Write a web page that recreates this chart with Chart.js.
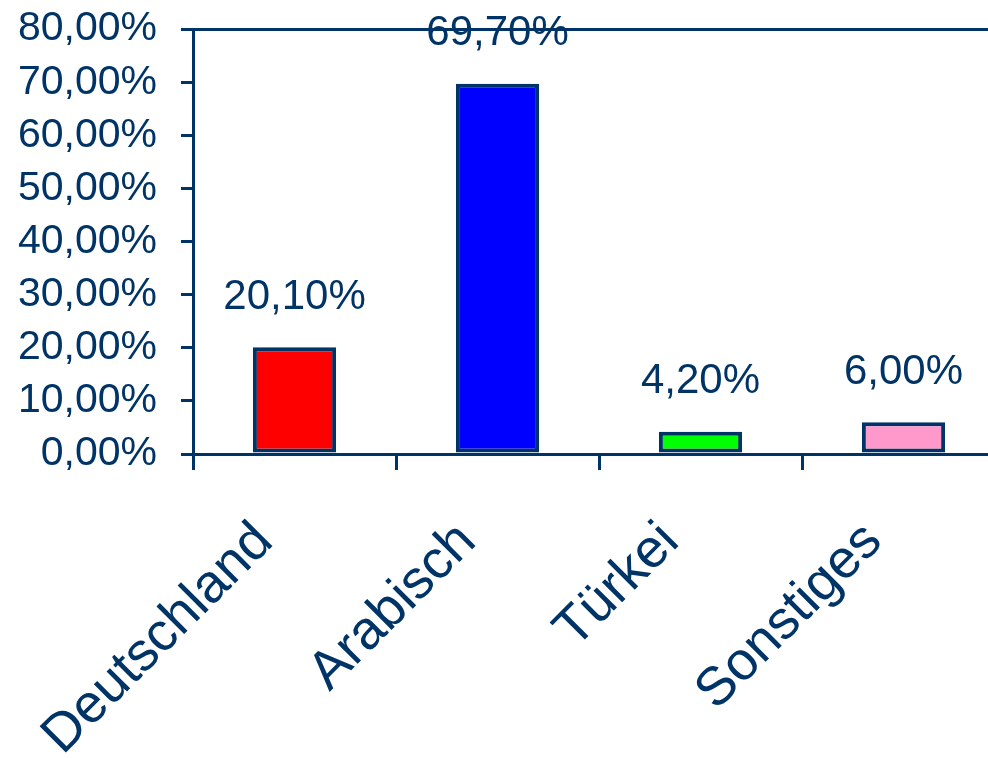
<!DOCTYPE html>
<html>
<head>
<meta charset="utf-8">
<script src="https://cdn.jsdelivr.net/npm/chart.js@4/dist/chart.umd.min.js"></script>
<style>
  html, body { margin: 0; padding: 0; overflow: hidden; background: #fff; }
  #wrap { width: 1010px; height: 758px; }
</style>
</head>
<body>
<div id="wrap"><canvas id="chartbar" width="1010" height="758"></canvas></div>
<script>
const categories = ['Deutschland', 'Arabisch', 'Türkei', 'Sonstiges'];
const shares = [20.1, 69.7, 4.2, 6.0];
const barColors = ['#FF0000', '#0000FF', '#00FF00', '#FF99CC'];
const yTicks = [0, 10, 20, 30, 40, 50, 60, 70, 80];

const navy = '#003366';
const font = "'Liberation Sans', Arial, sans-serif";

function pct(v) {
  return v.toFixed(2).replace('.', ',') + '%';
}

// value labels above the bars
const barLabels = {
  id: 'barLabels',
  afterDatasetsDraw(chart) {
    const c = chart.ctx;
    const meta = chart.getDatasetMeta(0);
    c.save();
    c.font = '42px ' + font;
    c.fillStyle = navy;
    c.textAlign = 'center';
    c.textBaseline = 'middle';
    meta.data.forEach((bar, i) => {
      c.fillText(pct(shares[i]), bar.x, bar.y - 50);
    });
    c.restore();
  }
};

const ctx = document.getElementById('chartbar').getContext('2d');

const chartbar = new Chart(ctx, {
  type: 'bar',
  data: {
    labels: categories,
    datasets: [{
      data: shares,
      backgroundColor: barColors,
      borderColor: navy,
      borderWidth: 4,
      borderSkipped: false,
      barPercentage: 0.41,
      categoryPercentage: 1
    }]
  },
  options: {
    responsive: false,
    animation: false,
    layout: { padding: { top: 28, right: 5, left: 0, bottom: 0 } },
    plugins: {
      legend: { display: false },
      tooltip: { enabled: false }
    },
    scales: {
      x: {
        border: { color: navy, width: 3 },
        grid: {
          offset: true,
          drawOnChartArea: false,
          tickLength: 16,
          tickColor: navy,
          lineWidth: 3
        },
        ticks: {
          color: navy,
          font: { family: font, size: 54 },
          minRotation: 45,
          maxRotation: 45,
          labelOffset: -30,
          padding: 40
        },
        afterFit(scale) { scale.height = 304; }
      },
      y: {
        min: 0,
        max: 80,
        afterBuildTicks(scale) {
          scale.ticks = yTicks.map(v => ({ value: v }));
        },
        border: { color: navy, width: 3 },
        grid: {
          color: c => (c.tick && c.tick.value === 80 ? navy : 'rgba(0,0,0,0)'),
          tickColor: navy,
          tickLength: 12,
          lineWidth: 3
        },
        ticks: {
          color: navy,
          autoSkip: false,
          font: { family: font, size: 41, lineHeight: 0.25 },
          padding: 24,
          callback: v => pct(v)
        },
        afterFit(scale) { scale.width = 193; }
      }
    }
  },
  plugins: [barLabels]
});
</script>
</body>
</html>
